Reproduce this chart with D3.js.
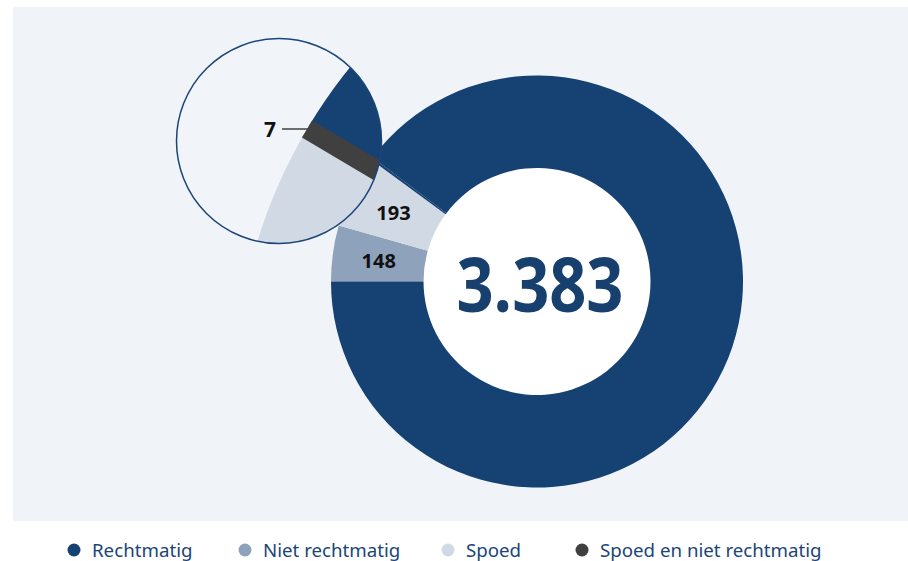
<!DOCTYPE html>
<html>
<head>
<meta charset="utf-8">
<script src="https://cdn.jsdelivr.net/npm/d3@7"></script>
<style>
  body { margin: 0; background: #fff; }
  svg { display: block; }
</style>
</head>
<body>
<div id="chart-area"></div>
<script>
// data
var categories = ["Rechtmatig", "Niet rechtmatig", "Spoed", "Spoed en niet rechtmatig"];
var values = [3035, 148, 193, 7];
var colors = ["#164173", "#8ea2bb", "#d1d9e4", "#404040"];
// order of slices clockwise, starting at 9 o'clock
var sliceOrder = [1, 2, 3, 0];
var showLabel = [false, true, true, false];
var totalLabel = "3.383";

var width = 908, height = 561;
var cx = 537, cy = 281.5;
var outerR = 206, innerR = 113.5;

var svg = d3.select("#chart-area")
    .append("svg")
    .attr("width", width)
    .attr("height", height);

// panel
svg.append("rect")
    .attr("x", 13).attr("y", 7)
    .attr("width", 895).attr("height", 514)
    .attr("fill", "#f0f4f8");

var pie = d3.pie()
    .sort(null)
    .value((d) => values[d])
    .startAngle(-Math.PI / 2)
    .endAngle(3 * Math.PI / 2);

var arcs = pie(sliceOrder);

var arc = d3.arc().innerRadius(innerR).outerRadius(outerR);

var g = svg.append("g")
    .attr("transform", "translate(" + cx + ", " + cy + ")");

// white hole
g.append("circle")
    .attr("r", innerR)
    .attr("fill", "#fff");

// the tiny slice is only shown in the magnifier
g.selectAll("path.slice")
    .data(arcs)
    .enter().append("path")
    .attr("class", "slice")
    .attr("d", arc)
    .attr("fill", (d) => d.data === 3 ? colors[0] : colors[d.data]);

g.selectAll("text.val")
    .data(arcs.filter((d) => showLabel[d.data]))
    .enter().append("text")
    .attr("class", "val")
    .attr("transform", (d) => "translate(" + arc.centroid(d) + ")")
    .attr("dy", "0.42em")
    .attr("text-anchor", "middle")
    .attr("font-family", "Open Sans")
    .attr("font-weight", 700)
    .attr("font-size", "20px")
    .attr("fill", "#111")
    .text((d) => values[d.data]);

g.append("text")
    .attr("x", 3)
    .attr("y", 30)
    .attr("text-anchor", "middle")
    .attr("font-family", "Open Sans")
    .attr("font-weight", 700)
    .attr("font-size", "76px")
    .attr("textLength", 167)
    .attr("lengthAdjust", "spacingAndGlyphs")
    .attr("fill", "#17406f")
    .text(totalLabel);

// magnifier on the smallest slice
var mx = 279, my = 141, mr = 102.5;
var zoomK = 2.5;
var rotOff = -6 * Math.PI / 180;
var bandW = 20;
var bigR = outerR * zoomK;
var small = arcs.find((d) => d.data === 3);
var midA = (small.startAngle + small.endAngle) / 2 + rotOff;
var px = 307, py = 129;   // where the band meets the outer edge
var ox = px - bigR * Math.sin(midA), oy = py + bigR * Math.cos(midA);

svg.append("clipPath").attr("id", "lens")
    .append("circle").attr("cx", mx).attr("cy", my).attr("r", mr);

var lens = svg.append("g");
lens.append("circle")
    .attr("cx", mx).attr("cy", my).attr("r", mr)
    .attr("fill", "#f1f5f9");

var bigArc = d3.arc().innerRadius(innerR * zoomK).outerRadius(bigR);
var zg = lens.append("g").attr("clip-path", "url(#lens)")
    .append("g")
    .attr("transform", "translate(" + ox + ", " + oy + ")");

zg.selectAll("path")
    .data(arcs.filter((d) => d.data !== 3))
    .enter().append("path")
    .attr("d", (d) => bigArc({startAngle: d.startAngle + rotOff, endAngle: d.endAngle + rotOff}))
    .attr("fill", (d) => colors[d.data]);

zg.append("rect")
    .attr("x", -bandW / 2)
    .attr("y", -bigR)
    .attr("width", bandW)
    .attr("height", bigR - innerR * zoomK)
    .attr("transform", "rotate(" + (midA * 180 / Math.PI) + ")")
    .attr("fill", colors[3]);

lens.append("circle")
    .attr("cx", mx).attr("cy", my).attr("r", mr)
    .attr("fill", "none")
    .attr("stroke", "#1b4577")
    .attr("stroke-width", 1.5);

lens.append("line")
    .attr("x1", px - 25).attr("y1", py)
    .attr("x2", px + 1).attr("y2", py)
    .attr("stroke", "#404040")
    .attr("stroke-width", 1.5);

lens.append("text")
    .attr("x", px - 31).attr("y", py)
    .attr("dy", "0.36em")
    .attr("text-anchor", "end")
    .attr("font-family", "Open Sans")
    .attr("font-weight", 700)
    .attr("font-size", "21px")
    .attr("fill", "#111")
    .text(values[3]);

// legend
var legendX = [74, 245, 448, 582];
var legend = svg.selectAll("g.legend")
    .data(categories)
    .enter().append("g")
    .attr("class", "legend")
    .attr("transform", (d, i) => "translate(" + legendX[i] + ", 550)");

legend.append("circle")
    .attr("r", 6.5)
    .attr("fill", (d, i) => colors[i]);

legend.append("text")
    .attr("x", 18)
    .attr("dy", "0.36em")
    .attr("font-family", "Noto Sans")
    .attr("font-size", "18.7px")
    .attr("fill", "#1b4577")
    .text((d) => d);
</script>
</body>
</html>
